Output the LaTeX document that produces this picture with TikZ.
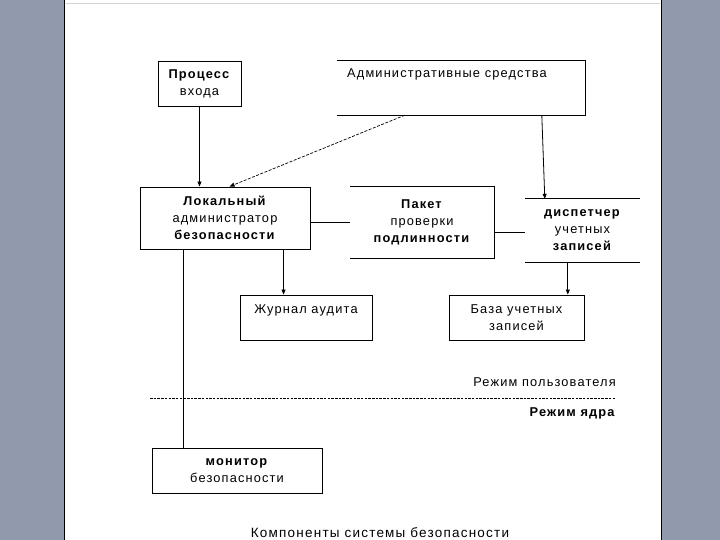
\documentclass[tikz,border=0pt]{standalone}
\usepackage{fontspec}
\setmainfont{Liberation Sans}[LetterSpace=9]
\usetikzlibrary{arrows.meta,positioning,calc}
\definecolor{sidegray}{RGB}{145,153,173}
\tikzset{
  basebox/.style={rectangle,align=center,font=\fontsize{12.8}{17}\selectfont,inner sep=0pt},
  plainbox/.style={basebox,draw=black,line width=0.9pt},
  openbox/.style={basebox,draw=none},
  labeltext/.style={font=\fontsize{12.8}{17}\selectfont,inner sep=0pt},
  arr/.style={-{Triangle[length=5pt,width=4pt]},line width=0.8pt},
  dasharr/.style={-{Triangle[length=5pt,width=4pt]},line width=0.7pt,dash pattern=on 3pt off 1.5pt},
  plainline/.style={line width=0.9pt}
}
\begin{document}
\begin{tikzpicture}[x=1pt,y=-1pt]
  \useasboundingbox (0,0) rectangle (720,540);
  % page and side panels
  \fill[sidegray] (0,0) rectangle (64,540);
  \fill[sidegray] (662,0) rectangle (720,540);
  \draw[line width=1.5pt] (64.5,0) -- (64.5,540);
  \draw[line width=1.5pt] (661.5,0) -- (661.5,540);
  \draw[gray!35] (66,3) -- (660,3);

  % user mode boxes
  \node[plainbox,minimum width=83pt,minimum height=45pt] (proc) at (199.5,83.5) {\textbf{Процесс}\\входа};
  \node[openbox,minimum width=248pt,minimum height=54pt] (admin) at (461,88) {};
  \node[labeltext,anchor=west] (admintxt) at (347,74) {Административные средства};
  \node[plainbox,minimum width=170pt,minimum height=62pt] (lok) at (225,218) {\textbf{Локальный}\\администратор\\\textbf{безопасности}};
  \node[openbox,minimum width=144pt,minimum height=71pt] (pak) at (422,222.5) {\textbf{Пакет}\\проверки\\\textbf{подлинности}};
  \node[openbox,minimum width=115pt,minimum height=63pt] (disp) at (582.5,230.5) {\textbf{диспетчер}\\учетных\\\textbf{записей}};
  \node[plainbox,minimum width=132pt,minimum height=45pt] (jour) at (306,317.5) {Журнал аудита\\\mbox{}};
  \node[plainbox,minimum width=135pt,minimum height=45pt] (baza) at (516.5,317.5) {База учетных\\записей};

  % open frames
  \draw[plainline] (admin.north west) -- (admin.north east) -- (admin.south east) -- (admin.south west);
  \draw[plainline] (pak.north west) -- (pak.north east) -- (pak.south east) -- (pak.south west);
  \draw[plainline] (disp.north west) -- (disp.north east);
  \draw[plainline] (disp.south west) -- (disp.south east);

  % mode border
  \draw[line width=1pt,dash pattern=on 2.5pt off 1.2pt] (150,398) -- (615,398);
  \node[labeltext,anchor=east] (umode) at (616,382) {Режим пользователя};
  \node[labeltext,anchor=east] (kmode) at (616,413) {\textbf{Режим ядра}};

  % kernel mode
  \node[plainbox,minimum width=170pt,minimum height=45pt] (mon) at (237,470.5) {\textbf{монитор}\\безопасности};
  \node[font=\fontsize{13.5}{16}\selectfont,inner sep=0pt,anchor=south] (caption) at (380,538) {Компоненты системы безопасности};

  % connectors
  \draw[arr] (proc.south) -- (proc.south |- lok.north);
  \draw[dasharr] ([xshift=68pt]admin.south west) -- ([xshift=90pt]lok.north west);
  \draw[arr] ([xshift=205pt]admin.south west) -- ([xshift=20pt]disp.north west);
  \draw[plainline] (lok.east |- pak.west) -- (pak.west);
  \draw[plainline] ([yshift=-9.5pt]pak.east) -- ([yshift=-1.5pt]disp.west);
  \draw[arr] ([xshift=144pt]lok.south west) coordinate (jt) -- (jt |- jour.north);
  \draw[arr] ([xshift=43pt]disp.south west) coordinate (bt) -- (bt |- baza.north);
  \draw[plainline] ([xshift=44pt]lok.south west) coordinate (mt) -- (mt |- mon.north);
\end{tikzpicture}
\end{document}
